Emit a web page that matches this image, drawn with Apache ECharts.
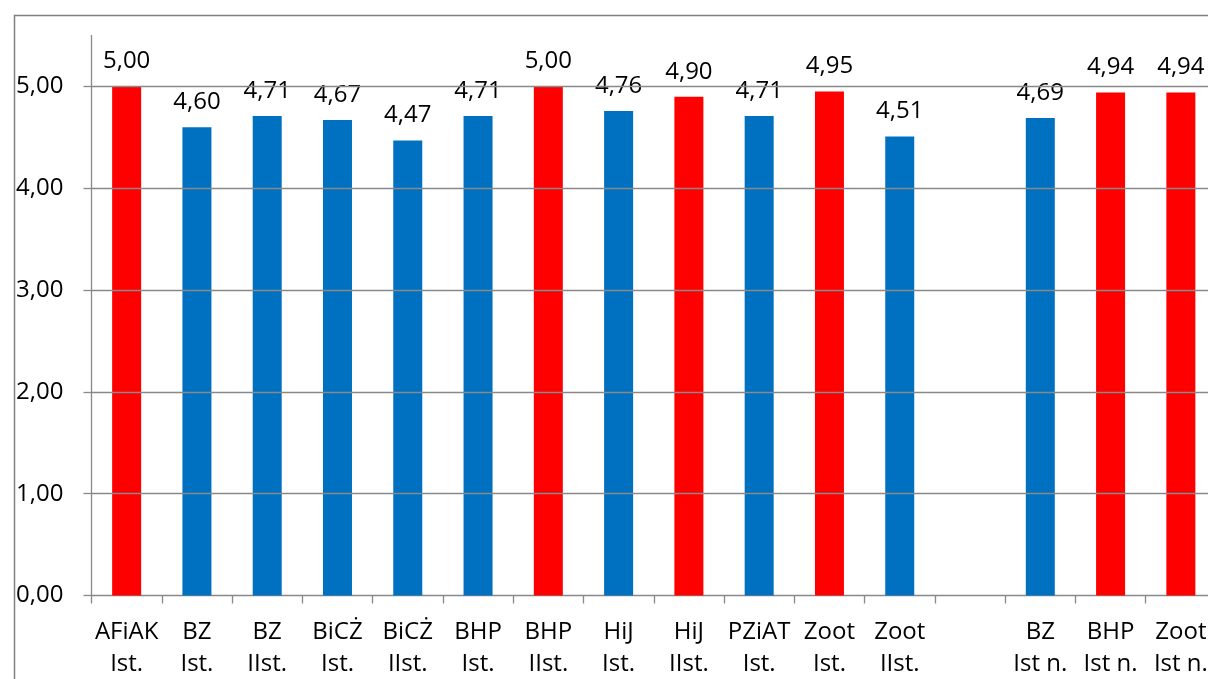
<!DOCTYPE html>
<html>
<head>
<meta charset="utf-8">
<script src="https://cdn.jsdelivr.net/npm/echarts@6/dist/echarts.min.js"></script>
<style>
  html, body { margin: 0; padding: 0; overflow: hidden; background: #fff; width: 1208px; height: 679px; }
  #chart { position: absolute; left: 0; top: 0; width: 1240px; height: 700px; }
</style>
</head>
<body>
<div id="chart"></div>
<script>
// Categories (two-line labels), with one empty slot between groups
const categories = [
  'AFiAK\nIst.', 'BZ\nIst.', 'BZ\nIIst.', 'BiCŻ\nIst.', 'BiCŻ\nIIst.', 'BHP\nIst.',
  'BHP\nIIst.', 'HiJ\nIst.', 'HiJ\nIIst.', 'PZiAT\nIst.', 'Zoot\nIst.', 'Zoot\nIIst.',
  '', 'BZ\nIst n.', 'BHP\nIst n.', 'Zoot\nIst n.'
];
const values = [5.00, 4.60, 4.71, 4.67, 4.47, 4.71, 5.00, 4.76, 4.90, 4.71, 4.95, 4.51, null, 4.69, 4.94, 4.94];
const yTicks = [0, 1, 2, 3, 4, 5];
const highlightThreshold = 4.9;

const RED = '#FF0000';
const BLUE = '#0070C0';
const GRAY = '#898989';
const FONT = 'Open Sans';
const fmt = v => v.toFixed(2).replace('.', ',');

const chart = echarts.init(document.getElementById('chart'), null, { renderer: 'canvas' });
chart.setOption({
  animation: false,
  backgroundColor: '#fff',
  textStyle: { fontFamily: FONT },
  graphic: [{
    type: 'rect', left: 12, top: 13, silent: true,
    shape: { width: 1400, height: 900 },
    style: { fill: 'none', stroke: '#808080', lineWidth: 1.5 }
  }],
  grid: { left: 91.5, top: 35.6, right: 24, bottom: 104.5, containLabel: false },
  xAxis: {
    type: 'category',
    data: categories,
    boundaryGap: true,
    axisLine: { lineStyle: { color: GRAY, width: 1.3 } },
    axisTick: { show: true, length: 8, lineStyle: { color: GRAY, width: 1.3 }, alignWithLabel: false },
    axisLabel: { interval: 0, color: '#000', fontSize: 24, fontFamily: FONT, lineHeight: 32.7, margin: 20 },
    splitLine: { show: false }
  },
  yAxis: {
    type: 'value',
    min: 0, max: 5.5, interval: 1,
    axisLine: { show: true, lineStyle: { color: GRAY, width: 1.3 } },
    axisTick: { show: true, length: 8, customValues: yTicks, lineStyle: { color: GRAY, width: 1.3 } },
    axisLabel: { customValues: yTicks, color: '#000', fontSize: 24, fontFamily: FONT, margin: 28, formatter: v => fmt(v) },
    splitLine: { show: false }
  },
  series: [{
    type: 'bar',
    data: values.map(v => v == null ? null : {
      value: v,
      itemStyle: { color: v >= highlightThreshold ? RED : BLUE }
    }),
    barWidth: 29,
    label: {
      show: true, position: 'top', distance: 13,
      color: '#000', fontSize: 24, fontFamily: FONT,
      formatter: p => fmt(p.value)
    },
    markLine: {
      silent: true, symbol: 'none', animation: false,
      label: { show: false },
      lineStyle: { color: GRAY, width: 1.3, type: 'solid' },
      data: yTicks.filter(t => t > 0).map(t => ({ yAxis: t }))
    },
    z: 3
  }]
});
</script>
</body>
</html>
